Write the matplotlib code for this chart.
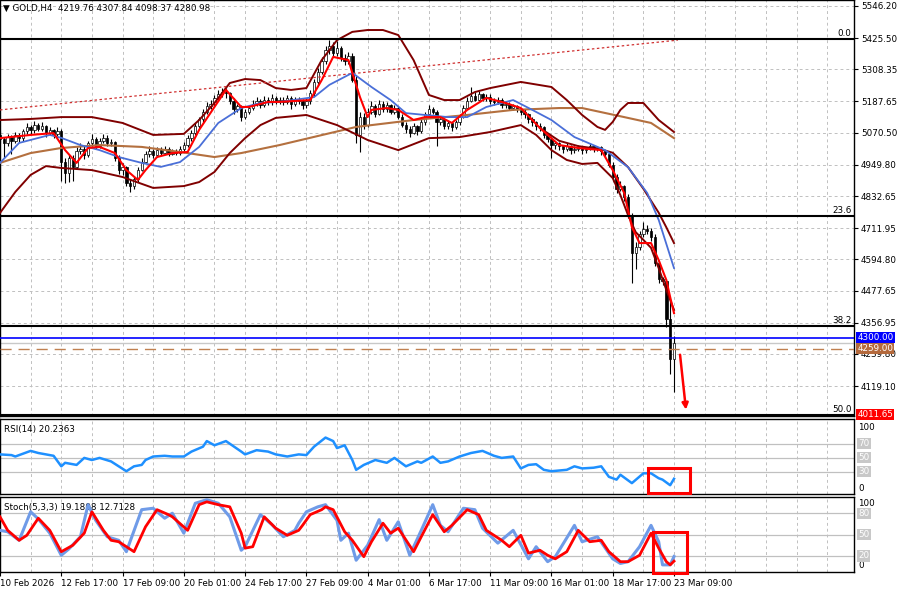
import matplotlib
matplotlib.use("Agg")
import matplotlib.pyplot as plt
import matplotlib.transforms as mtransforms
from matplotlib.patches import Rectangle

plt.rcParams["font.family"] = "DejaVu Sans"
FS = 6.3

# ---- GOLD H4 candles, bar 0 = 10 Feb 01:00 (open of each bar = close of previous bar) ----
first_open = 5060.0
closes = [
    5045, 5030, 5055, 5040, 5060, 5050, 5075, 5090, 5080, 5100, 5085, 5095, 5070, 5080, 5065, 5075,
    4960, 4920, 4975, 4940, 5000, 5010, 4985, 5030, 5045, 5020, 5040, 5050, 5030, 5035, 4975, 4930,
    4940, 4880, 4870, 4895, 4930, 4960, 4990, 5000, 4985, 5005, 4995, 5010, 4990, 5000, 4995, 5010,
    5025, 5050, 5070, 5095, 5120, 5150, 5170, 5180, 5200, 5215, 5225, 5220, 5190, 5160, 5170, 5130,
    5150, 5165, 5180, 5190, 5175, 5195, 5185, 5200, 5190, 5195, 5185, 5200, 5180, 5195, 5190, 5175,
    5190, 5220, 5260, 5300, 5340, 5380, 5395, 5370, 5390, 5350, 5340, 5360, 5270, 5060, 5130, 5100,
    5150, 5170, 5140, 5180, 5160, 5175, 5150, 5165, 5130, 5100, 5085, 5070, 5095, 5075, 5110, 5140,
    5160, 5150, 5110, 5120, 5095, 5105, 5090, 5110, 5130, 5165, 5190, 5210, 5195, 5215, 5200, 5205,
    5190, 5185, 5195, 5175, 5180, 5165, 5170, 5160, 5150, 5140, 5120, 5110, 5095, 5090, 5060, 5045,
    5025, 5030, 5020, 5010, 5020, 5005, 5010, 5015, 5005, 5010, 5020, 5010, 5015, 5000, 4990, 4950,
    4905, 4860, 4870, 4830, 4760, 4620, 4640, 4690, 4710, 4700, 4680, 4580, 4520, 4515, 4370, 4219.76,
    4280.98,
]
highs = [
    5075, 5055, 5065, 5062, 5072, 5068, 5085, 5105, 5098, 5115, 5108, 5110, 5100, 5092, 5085, 5090,
    5085, 4975, 4985, 4985, 5015, 5030, 5020, 5040, 5065, 5055, 5050, 5065, 5060, 5048, 5040, 4985,
    4955, 4945, 4895, 4905, 4940, 4975, 5000, 5020, 5010, 5015, 5015, 5020, 5015, 5010, 5008, 5020,
    5035, 5060, 5080, 5105, 5130, 5160, 5185, 5195, 5212, 5230, 5238, 5240, 5225, 5200, 5180, 5175,
    5160, 5175, 5195, 5205, 5198, 5210, 5205, 5215, 5210, 5205, 5205, 5212, 5208, 5205, 5205, 5198,
    5200, 5230, 5272, 5315, 5355, 5395, 5418, 5410, 5415, 5395, 5365, 5375, 5368, 5285, 5150, 5145,
    5165, 5190, 5180, 5195, 5190, 5185, 5180, 5175, 5170, 5140, 5110, 5095, 5105, 5100, 5120, 5150,
    5175, 5168, 5155, 5130, 5125, 5115, 5110, 5118, 5140, 5175, 5205, 5242, 5225, 5228, 5220, 5215,
    5215, 5200, 5205, 5200, 5190, 5185, 5180, 5175, 5165, 5158, 5145, 5130, 5115, 5105, 5095, 5070,
    5055, 5040, 5035, 5025, 5030, 5025, 5020, 5025, 5020, 5018, 5030, 5025, 5022, 5020, 5005, 4995,
    4960, 4915, 4890, 4875, 4840, 4770, 4660, 4700, 4736, 4725, 4712, 4690, 4590, 4530, 4520, 4440,
    4307.84,
]
lows = [
    5030, 4975, 5020, 4990, 5030, 5035, 5040, 5065, 5065, 5070, 5075, 5078, 5055, 5060, 5050, 5055,
    4890, 4880, 4885, 4890, 4935, 4990, 4970, 4980, 5020, 5010, 5012, 5030, 5022, 5020, 4965, 4915,
    4910, 4870, 4848, 4860, 4885, 4925, 4955, 4980, 4975, 4978, 4985, 4990, 4982, 4985, 4985, 4988,
    5000, 5015, 5040, 5062, 5088, 5112, 5140, 5160, 5172, 5190, 5205, 5200, 5180, 5140, 5150, 5115,
    5120, 5140, 5155, 5170, 5165, 5168, 5175, 5175, 5180, 5180, 5175, 5178, 5160, 5172, 5180, 5160,
    5165, 5180, 5210, 5250, 5290, 5330, 5365, 5355, 5360, 5340, 5325, 5330, 5260, 5030, 4998, 5085,
    5090, 5140, 5130, 5135, 5150, 5150, 5140, 5140, 5120, 5090, 5070, 5055, 5065, 5060, 5070, 5100,
    5130, 5140, 5020, 5100, 5085, 5085, 5078, 5085, 5100, 5125, 5160, 5185, 5188, 5190, 5190, 5190,
    5180, 5175, 5178, 5165, 5165, 5155, 5155, 5150, 5135, 5125, 5105, 5095, 5080, 5075, 5050, 5035,
    4975, 5010, 5005, 4995, 5002, 4990, 4995, 5000, 4990, 4995, 5005, 4998, 5000, 4985, 4975, 4940,
    4890, 4845, 4850, 4815, 4750, 4506, 4560, 4630, 4680, 4690, 4665, 4570, 4505, 4500, 4340, 4165,
    4098.37,
]

# ---- indicator lines on the price chart (bar, price) ----
bb_up_bars = [0, 8, 16, 24, 32, 40, 48, 52, 56, 60, 64, 68, 72, 76, 80, 84, 88, 92, 96, 100,
              104, 108, 112, 116, 120, 124, 128, 136, 144, 148, 152, 156, 158, 160, 162, 164, 168, 172, 176]
bb_up = [5118, 5122, 5129, 5129, 5107, 5062, 5066, 5118, 5182, 5257, 5272, 5268, 5238, 5231, 5238, 5343,
         5418, 5449, 5456, 5456, 5437, 5343, 5212, 5193, 5193, 5223, 5238, 5261, 5242, 5193, 5137, 5092,
         5081, 5111, 5156, 5182, 5182, 5118, 5073]
bb_lo_bars = [0, 4, 8, 12, 16, 24, 32, 40, 48, 52, 56, 60, 64, 68, 72, 80, 88, 96, 104, 112,
              120, 128, 136, 140, 144, 148, 152, 156, 160, 162, 164, 166, 168, 170, 172, 174, 176]
bb_lo = [4769, 4848, 4912, 4945, 4938, 4930, 4904, 4863, 4870, 4885, 4923, 4994, 5050, 5099, 5126, 5137,
         5099, 5043, 5005, 5050, 5054, 5073, 5099, 5062, 5005, 4968, 4953, 4957, 4900, 4836, 4761, 4697,
         4668, 4638, 4562, 4480, 4405]
# dark red middle line, only separable from the other lines over the last days
bb_mid_bars = [141, 146, 151, 157, 160, 164, 168, 172, 174, 176]
bb_mid = [5088, 5040, 5020, 5008, 4995, 4941, 4860, 4770, 4715, 4656]
blue_bars = [0, 5, 13, 16, 21, 26, 31, 37, 42, 47, 52, 57, 63, 68, 73, 82, 86, 92, 97, 102,
             106, 111, 117, 122, 127, 134, 139, 144, 150, 158, 164, 169, 172, 176]
blue_ma = [4957, 5032, 5062, 5051, 5024, 5005, 4979, 4957, 4942, 4960, 5017, 5107, 5163, 5182, 5186, 5204,
           5250, 5295, 5242, 5193, 5144, 5137, 5129, 5129, 5167, 5193, 5156, 5118, 5054, 5005, 4941, 4844,
           4743, 4562]
red_bars = [0, 8, 14, 17, 20, 23, 26, 30, 33, 36, 38, 41, 45, 49, 52, 56, 59, 63, 65, 70,
            73, 81, 84, 87, 91, 92, 94, 96, 97, 101, 104, 108, 111, 115, 118, 122, 127, 132, 136, 141,
            146, 151, 157, 160, 163, 165, 167, 170, 172, 174, 175, 176]
red_ma = [5050, 5062, 5069, 5005, 4957, 5013, 5017, 4994, 4930, 4893, 4930, 4979, 4994, 4998, 5081, 5167,
          5231, 5167, 5167, 5186, 5186, 5193, 5268, 5355, 5343, 5295, 5204, 5129, 5156, 5163, 5156, 5118,
          5129, 5129, 5107, 5156, 5201, 5182, 5163, 5088, 5024, 5013, 5005, 4930, 4844, 4716, 4656, 4656,
          4592, 4517, 4453, 4393]
brown_bars = [0, 8, 16, 26, 37, 47, 56, 63, 73, 93, 108, 122, 134, 146, 152, 163, 170, 176]
brown_ma = [4957, 4994, 5013, 5024, 5017, 4998, 4979, 4994, 5024, 5092, 5118, 5137, 5156, 5163, 5163,
            5129, 5107, 5050]

trend_bars = [0, 177]
trend_prices = [5156, 5418]

fib_levels = [5423.3, 4757.0, 4344.8, 4011.65]
fib_names = ["0.0", "23.6", "38.2", "50.0"]
entry_level = 4300.00
order_level = 4259.00
arrow_from = (177.5, 4247)
arrow_to = (179.2, 4020)

price_ticks = [5546.20, 5425.50, 5308.35, 5187.65, 5070.50, 4949.80, 4832.65, 4711.95,
               4594.80, 4477.65, 4356.95, 4239.80, 4119.10]
date_bars = [0, 16, 32, 48, 64, 80, 96, 112, 128, 144, 160, 176]
date_labels = ["10 Feb 2026", "12 Feb 17:00", "17 Feb 09:00", "20 Feb 01:00", "24 Feb 17:00",
               "27 Feb 09:00", "4 Mar 01:00", "6 Mar 17:00", "11 Mar 09:00", "16 Mar 01:00",
               "18 Mar 17:00", "23 Mar 09:00"]

# ---- RSI(14) ----
rsi_bars = [0, 3, 4, 8, 10, 14, 16, 17, 20, 22, 24, 26, 29, 33, 35, 37, 38, 40, 43, 45,
            48, 50, 53, 54, 56, 59, 63, 64, 67, 70, 72, 75, 78, 80, 82, 85, 87, 88, 90, 92,
            93, 95, 98, 101, 103, 106, 109, 110, 113, 115, 117, 120, 123, 126, 129, 131, 134, 136, 138, 140,
            142, 144, 148, 150, 152, 155, 157, 159, 161, 162, 165, 168, 170, 172, 173, 175, 176]
rsi = [55, 54, 52, 60, 57, 53, 38, 43, 40, 50, 47, 50, 45, 31, 38, 40, 47, 52, 53, 52,
       52, 59, 66, 74, 68, 74, 59, 55, 61, 59, 55, 52, 55, 54, 66, 79, 74, 64, 68, 47,
       33, 40, 47, 43, 50, 38, 45, 43, 52, 43, 45, 52, 57, 60, 53, 50, 52, 35, 40, 41,
       33, 31, 33, 38, 35, 36, 38, 23, 19, 26, 14, 28, 28, 21, 19, 11, 20.24]
rsi_levels = [70, 50, 30]
rsi_box = (169.2, -0.5, 180.2, 35.7)

# ---- Stochastic(5,3,3) ----
st_k_bars = [0, 2, 5, 8, 10, 13, 16, 18, 21, 23, 25, 28, 31, 33, 37, 40, 43, 45, 48, 51,
             54, 57, 60, 63, 64, 68, 71, 74, 77, 78, 80, 83, 85, 88, 89, 91, 93, 96, 99, 101,
             104, 107, 110, 113, 115, 117, 121, 124, 126, 130, 134, 138, 140, 143, 145, 150, 152, 156, 160, 162,
             164, 167, 170, 172, 173, 175, 176]
st_k = [56, 54, 42, 82, 72, 52, 21, 30, 47, 92, 70, 47, 42, 26, 85, 87, 73, 80, 52, 94,
        99, 94, 75, 28, 33, 78, 64, 47, 56, 66, 82, 89, 92, 70, 42, 52, 14, 35, 71, 42,
        68, 21, 56, 92, 63, 54, 87, 85, 59, 38, 56, 16, 33, 12, 19, 63, 40, 47, 16, 9.5,
        12, 33, 63, 40, 7.5, 7.5, 19.18]
st_d_bars = [0, 2, 5, 7, 10, 13, 16, 19, 22, 24, 27, 29, 31, 35, 38, 41, 44, 45, 49, 52,
             54, 57, 60, 63, 64, 66, 69, 72, 75, 78, 79, 81, 84, 85, 87, 90, 92, 95, 97, 100,
             102, 104, 108, 110, 113, 116, 118, 122, 125, 127, 131, 133, 136, 138, 141, 143, 145, 148, 151, 154,
             157, 159, 162, 164, 167, 170, 172, 174, 175, 176]
st_d = [75, 56, 42, 49, 73, 56, 26, 35, 52, 82, 56, 42, 40, 26, 61, 85, 78, 75, 56, 92,
        96, 92, 89, 52, 31, 33, 75, 59, 49, 56, 63, 78, 85, 89, 85, 54, 42, 19, 40, 66,
        52, 59, 26, 47, 78, 54, 63, 85, 78, 56, 42, 33, 49, 24, 28, 21, 16, 26, 56, 40,
        42, 26, 12, 12, 21, 52, 31, 12, 7.5, 12.71]
st_levels = [80, 50, 20]
st_box = (170.5, -4, 179.4, 53.7)

opens = [first_open] + closes[:-1]
bars = list(range(len(closes)))

GRID = "#c0c0c0"
W, H = 900, 593


def panel(top, bottom):
    # pixel box -> figure fraction
    return fig.add_axes([0, (H - bottom) / H, 854 / W, (bottom - top) / H])


fig = plt.figure(figsize=(9, 5.93), dpi=100)
ax = panel(0, 416)
ax_rsi = panel(419, 494)
ax_st = panel(497, 572)

for a in (ax, ax_rsi, ax_st):
    a.set_xlim(0, 223)
    for s in a.spines.values():
        s.set_color("black")
        s.set_linewidth(1.0)
    for b in range(0, 224, 8):
        a.axvline(b, color=GRID, lw=0.7, ls=(0, (3, 3)), zorder=0)
    a.tick_params(axis="x", length=0, labelbottom=False)

# ---- main price chart ----
ax.set_ylim(4006.6, 5568.7)
for p in price_ticks:
    ax.axhline(p, color=GRID, lw=0.7, ls=(0, (3, 3)), zorder=0)
ax.yaxis.tick_right()
ax.set_yticks(price_ticks)
ax.set_yticklabels([f"{p:.2f}" for p in price_ticks])
ax.tick_params(axis="y", length=3, pad=2, labelsize=FS)

ax.vlines(bars, lows, highs, color="black", lw=0.8, zorder=2)
ax.bar(bars, [c - o for o, c in zip(opens, closes)], bottom=opens, width=0.62,
       color=["white" if c >= o else "black" for o, c in zip(opens, closes)],
       edgecolor="black", linewidth=0.5, zorder=2.5)

ax.plot(brown_bars, brown_ma, color="#b4703f", lw=1.5, zorder=3)
ax.plot(bb_up_bars, bb_up, color="#800000", lw=1.4, zorder=3)
ax.plot(bb_mid_bars, bb_mid, color="#800000", lw=1.4, zorder=3)
ax.plot(bb_lo_bars, bb_lo, color="#800000", lw=1.4, zorder=3)
ax.plot(blue_bars, blue_ma, color="#4a6fd8", lw=1.3, zorder=3.2)
ax.plot(red_bars, red_ma, color="#ff0000", lw=1.5, zorder=3.4)
ax.plot(trend_bars, trend_prices, color="#d03030", lw=0.9, ls=(0, (2, 2)), zorder=3)

for lvl, name in zip(fib_levels, fib_names):
    ax.axhline(lvl, color="black", lw=1.5, zorder=4)
    ax.text(222.4, lvl + 4, name, ha="right", va="bottom", fontsize=FS, zorder=5)
ax.axhline(entry_level, color="#0000ff", lw=1.2, zorder=4)
ax.axhline(closes[-1], color="#c8c8c8", lw=1.0, zorder=1)
ax.axhline(order_level, color="#c08050", lw=1.0, ls=(0, (8, 5)), zorder=4)

ax.annotate("", xy=arrow_to, xytext=arrow_from,
            arrowprops=dict(arrowstyle="-|>", color="#ff0000", lw=1.8, mutation_scale=9),
            zorder=5)

ytrans = mtransforms.blended_transform_factory(ax.transAxes, ax.transData)
for val, fc in [(entry_level, "#0000ff"), (order_level, "#b4693c"), (fib_levels[-1], "#ff0000")]:
    ax.text(1.004, val, f"{val:.2f}", transform=ytrans, ha="left", va="center", fontsize=FS,
            color="white", clip_on=False, zorder=6,
            bbox=dict(boxstyle="square,pad=0.12", fc=fc, ec="none"))

ax.text(0.004, 0.981, "\u25bc GOLD,H4  " + " ".join(f"{v:.2f}" for v in
        (opens[-1], highs[-1], lows[-1], closes[-1])),
        transform=ax.transAxes, ha="left", va="center", fontsize=FS, zorder=6)


# ---- sub panels ----
def sub_panel(a, lo, hi, levels, title):
    a.set_ylim(lo, hi)
    a.set_yticks([])
    for lv in levels:
        a.axhline(lv, color=GRID, lw=0.9, zorder=0)
    t = mtransforms.blended_transform_factory(a.transAxes, a.transData)
    a.text(1.005, 100, "100", transform=t, ha="left", va="top", fontsize=FS, clip_on=False)
    a.text(1.005, 0, "0", transform=t, ha="left", va="bottom", fontsize=FS, clip_on=False)
    for lv in levels:
        a.text(1.005, lv, str(lv), transform=t, ha="left", va="center", fontsize=FS,
               color="white", clip_on=False,
               bbox=dict(boxstyle="square,pad=0.12", fc="#c8c8c8", ec="none"))
    a.text(0.005, 0.86, title, transform=a.transAxes, ha="left", va="center", fontsize=FS)


sub_panel(ax_rsi, -1.5, 105.5, rsi_levels, "RSI(14) 20.2363")
ax_rsi.plot(rsi_bars, rsi, color="#1e90ff", lw=1.8, zorder=3)
ax_rsi.add_patch(Rectangle((rsi_box[0], rsi_box[1]), rsi_box[2] - rsi_box[0], rsi_box[3] - rsi_box[1],
                           fill=False, ec="#ff0000", lw=2.2, clip_on=False, zorder=5))

sub_panel(ax_st, -2.5, 102.8, st_levels, "Stoch(5,3,3) 19.1808 12.7128")
ax_st.plot(st_k_bars, st_k, color="#6f9be8", lw=2.2, zorder=3)
ax_st.plot(st_d_bars, st_d, color="#ff0000", lw=2.0, zorder=3.2)
ax_st.add_patch(Rectangle((st_box[0], st_box[1]), st_box[2] - st_box[0], st_box[3] - st_box[1],
                          fill=False, ec="#ff0000", lw=2.2, clip_on=False, zorder=5))

ax_st.set_xticks(date_bars)
ax_st.set_xticklabels(date_labels)
ax_st.tick_params(axis="x", length=3, pad=2, labelsize=FS, labelbottom=True)
for lab in ax_st.get_xticklabels():
    lab.set_ha("left")

fig.savefig("out.png", dpi=100)
